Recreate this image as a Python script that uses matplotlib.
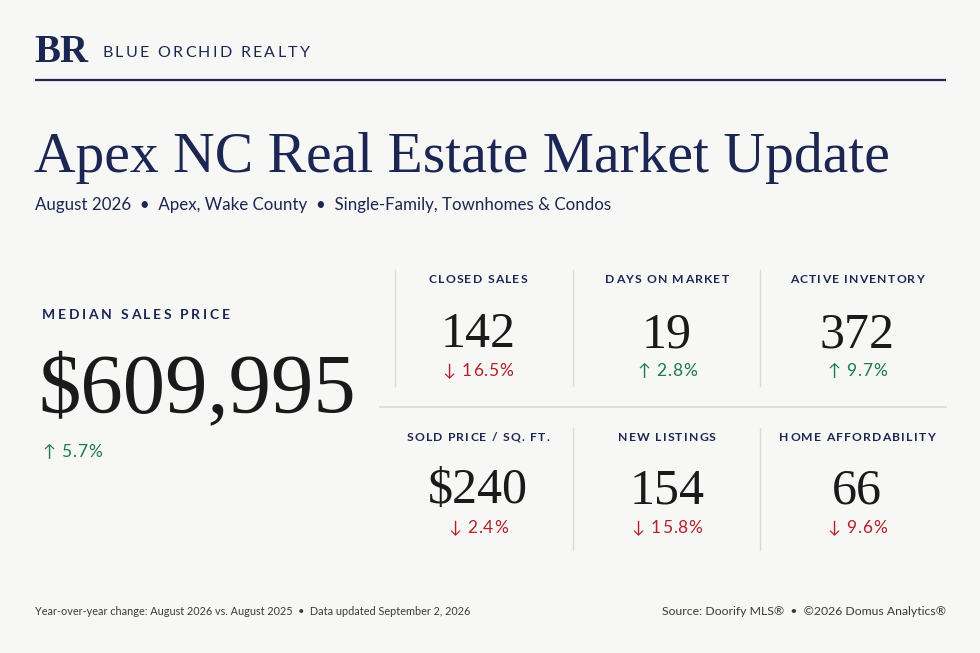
import matplotlib
matplotlib.use("Agg")
import matplotlib.pyplot as plt
from matplotlib.font_manager import FontProperties

# ---------------- data ----------------
brand = "BLUE ORCHID REALTY"
title = "Apex NC Real Estate Market Update"
subtitle_parts = ["August 2026", "Apex, Wake County", "Single-Family, Townhomes & Condos"]
hero_label = "MEDIAN SALES PRICE"
hero_value = "$609,995"
hero_change = 5.7
hero_dir = "up"

metric_labels = ["CLOSED SALES", "DAYS ON MARKET", "ACTIVE INVENTORY",
                 "SOLD PRICE / SQ. FT.", "NEW LISTINGS", "HOME AFFORDABILITY"]
metric_values = ["142", "19", "372", "$240", "154", "66"]
metric_changes = [16.5, 2.8, 9.7, 2.4, 15.8, 9.6]
metric_dirs = ["down", "up", "up", "down", "down", "down"]

footer_left = ["Year-over-year change: August 2026 vs. August 2025", "Data updated September 2, 2026"]
footer_right = ["Source: Doorify MLS\u00ae", "\u00a92026 Domus Analytics\u00ae"]

# ---------------- style ----------------
BG = "#f7f7f5"
NAVY = "#1b2652"
INK = "#1a1a1a"
RED = "#b3202b"
GREEN = "#1d7a4b"
GRID = "#d9d9d9"
FOOT = "#3a3a3a"
SANS = ["Lato", "DejaVu Sans"]
SERIF = ["Liberation Serif", "DejaVu Serif"]

W, H = 980, 653
fig = plt.figure(figsize=(W / 100, H / 100), dpi=100, facecolor=BG)
ax = fig.add_axes([0, 0, 1, 1])
ax.set_xlim(0, W)
ax.set_ylim(H, 0)
ax.axis("off")
ax.set_facecolor(BG)
renderer = fig.canvas.get_renderer()


def text_width(s, size, family, weight="normal"):
    fp = FontProperties(family=family, size=size, weight=weight)
    return renderer.get_text_width_height_descent(s, fp, ismath=False)[0]


def tracked(x, y, s, size, color, track, ha="left", weight="normal", family=SANS):
    fp = FontProperties(family=family, size=size, weight=weight)
    widths = [renderer.get_text_width_height_descent(c, fp, ismath=False)[0] for c in s]
    total = sum(widths) + track * (len(s) - 1)
    if ha == "center":
        x0 = x - total / 2
    elif ha == "right":
        x0 = x - total
    else:
        x0 = x
    for c, w in zip(s, widths):
        ax.text(x0, y, c, fontproperties=fp, color=color, ha="left", va="baseline")
        x0 += w + track


def change_text(x, y, val, d, size, ha="center"):
    arrow = "\u2191" if d == "up" else "\u2193"
    col = GREEN if d == "up" else RED
    tracked(x, y, f"{arrow} {val:.1f}%", size, col, 0.8, ha=ha)


# ---------------- header ----------------
ax.text(34, 62, "BR", family=SERIF, fontsize=28, color=NAVY, ha="left", va="baseline", weight="bold")
tracked(102, 57, brand, 11.5, NAVY, 2.3)
ax.plot([35, 946], [80, 80], color=NAVY, lw=1.6, solid_capstyle="butt")

# fit title width to header span
tsize = 47 * 855 / text_width(title, 47, SERIF)
ax.text(34, 172, title, family=SERIF, fontsize=tsize, color=NAVY, ha="left", va="baseline")
ax.text(35, 210, "  \u2022  ".join(subtitle_parts), family=SANS, fontsize=12.2,
        color=NAVY, ha="left", va="baseline")

# ---------------- hero ----------------
tracked(42, 319, hero_label, 10, NAVY, 2.7, weight="bold")
ax.text(38, 413, hero_value, family=SERIF, fontsize=61, color=INK, ha="left", va="baseline")
change_text(42, 457, hero_change, hero_dir, 12.5, ha="left")

# ---------------- grid ----------------
col_x = [478, 667, 857]
label_y = [283, 441]
value_y = [347, 503]
chg_y = [376, 533]
for i, (lab, val, chg, d) in enumerate(zip(metric_labels, metric_values, metric_changes, metric_dirs)):
    r, c = divmod(i, 3)
    tracked(col_x[c], label_y[r], lab, 8.7, NAVY, 1.2, ha="center", weight="bold")
    ax.text(col_x[c], value_y[r], val, family=SERIF, fontsize=36, color=INK, ha="center", va="baseline")
    change_text(col_x[c], chg_y[r], chg, d, 12.5)

# dividers
ax.plot([395, 395], [270, 386], color=GRID, lw=1)
for xv in [573, 760]:
    ax.plot([xv, xv], [270, 386], color=GRID, lw=1)
    ax.plot([xv, xv], [428, 550], color=GRID, lw=1)
ax.plot([380, 946], [407, 407], color=GRID, lw=1.2)

# ---------------- footer ----------------
ax.text(35, 615, "  \u2022  ".join(footer_left), family=SANS, fontsize=7.8, color=FOOT,
        ha="left", va="baseline")
ax.text(946, 615, "  \u2022  ".join(footer_right), family=SANS, fontsize=8.8, color=FOOT,
        ha="right", va="baseline")

fig.savefig("out.png", dpi=100, facecolor=BG)
